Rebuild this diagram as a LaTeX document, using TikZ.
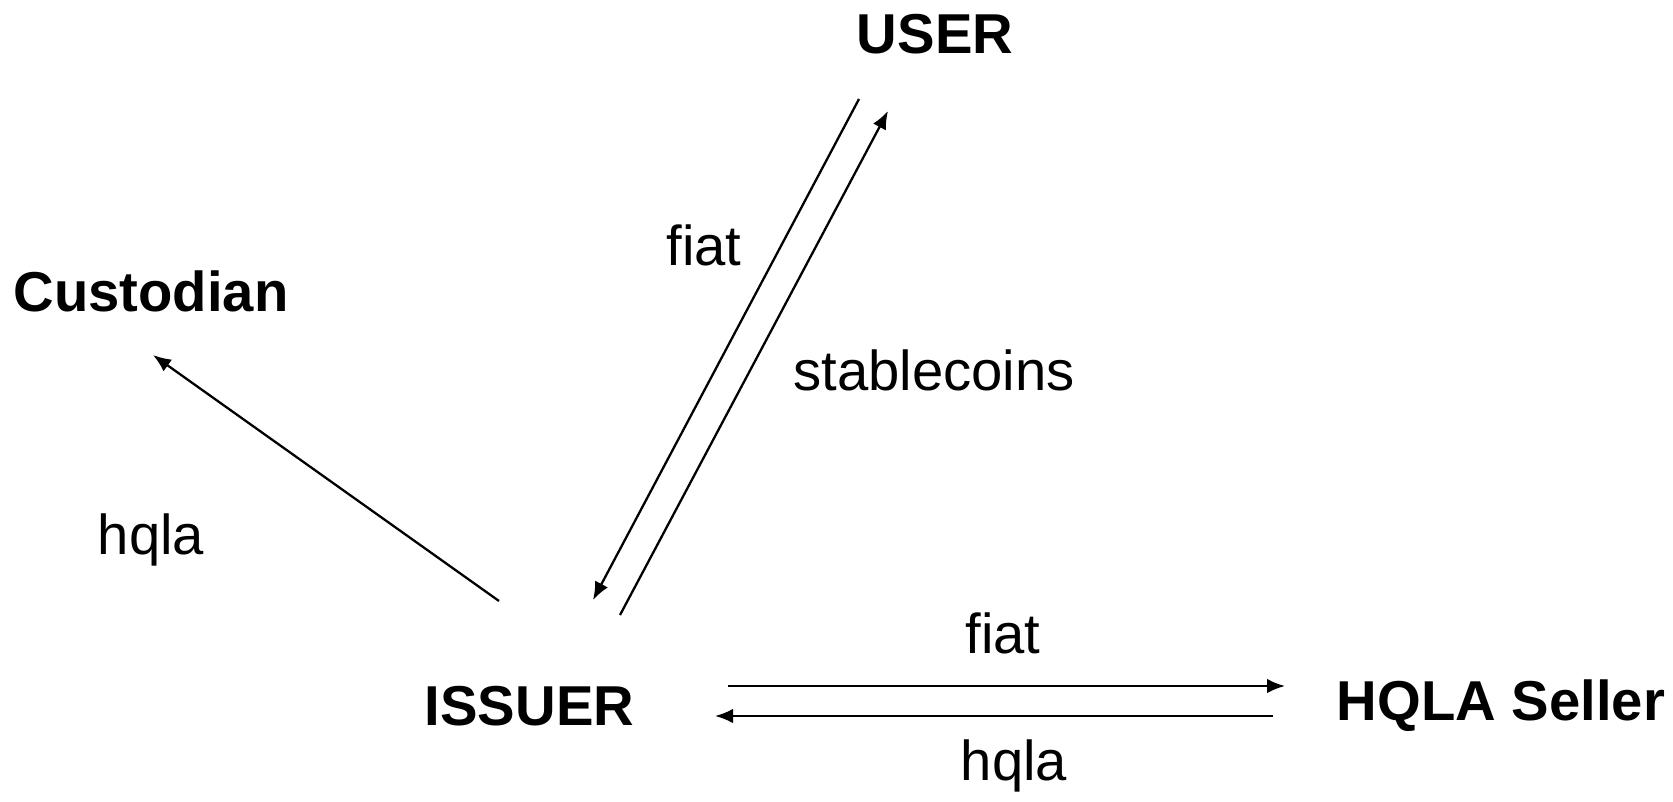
\documentclass[tikz,border=0pt]{standalone}
\usepackage{fontspec}
\setmainfont{Liberation Sans}
\usetikzlibrary{arrows.meta}

\begin{document}
\begin{tikzpicture}[
  party/.style={font=\fontsize{32}{38}\selectfont\bfseries, inner sep=0pt},
  flowlabel/.style={font=\fontsize{32}{38}\selectfont, inner sep=0pt},
  flow/.style={line width=1.3pt, -{Latex[length=3.6mm,width=2.9mm]}}]
\useasboundingbox (0,0) rectangle (33.46,-16.02);
% parties
\node [party] (user) at (18.70,-0.69) {USER};
\node [party] (custodian) at (3.02,-5.82) {Custodian};
\node [party] (issuer) at (10.59,-14.12) {ISSUER};
\node [party] (seller) at (30.02,-14.12) {HQLA Seller};
% arrow ends
\coordinate (user-out) at (17.18,-1.98);
\coordinate (user-in) at (17.76,-2.22);
\coordinate (issuer-in) at (11.86,-12.00);
\coordinate (issuer-out) at (12.40,-12.30);
\coordinate (issuer-hqla) at (9.98,-12.02);
\coordinate (custodian-in) at (3.06,-7.10);
\coordinate (issuer-fiat) at (14.56,-13.72);
\coordinate (seller-in) at (25.70,-13.72);
\coordinate (seller-out) at (25.46,-14.32);
\coordinate (issuer-back) at (14.30,-14.32);
% flows
\draw [flow] (user-out) -- (issuer-in);
\draw [flow] (issuer-out) -- (user-in);
\draw [flow] (issuer-hqla) -- (custodian-in);
\draw [flow] (issuer-fiat) -- (seller-in);
\draw [flow] (seller-out) -- (issuer-back);
% labels
\node [flowlabel] (fiatup) at (14.08,-4.90) {fiat};
\node [flowlabel] (coins) at (18.68,-7.40) {stablecoins};
\node [flowlabel] (hqlacust) at (3.02,-10.80) {hqla};
\node [flowlabel] (fiatseller) at (20.06,-12.66) {fiat};
\node [flowlabel] (hqlaseller) at (20.28,-15.32) {hqla};
\end{tikzpicture}
\end{document}
